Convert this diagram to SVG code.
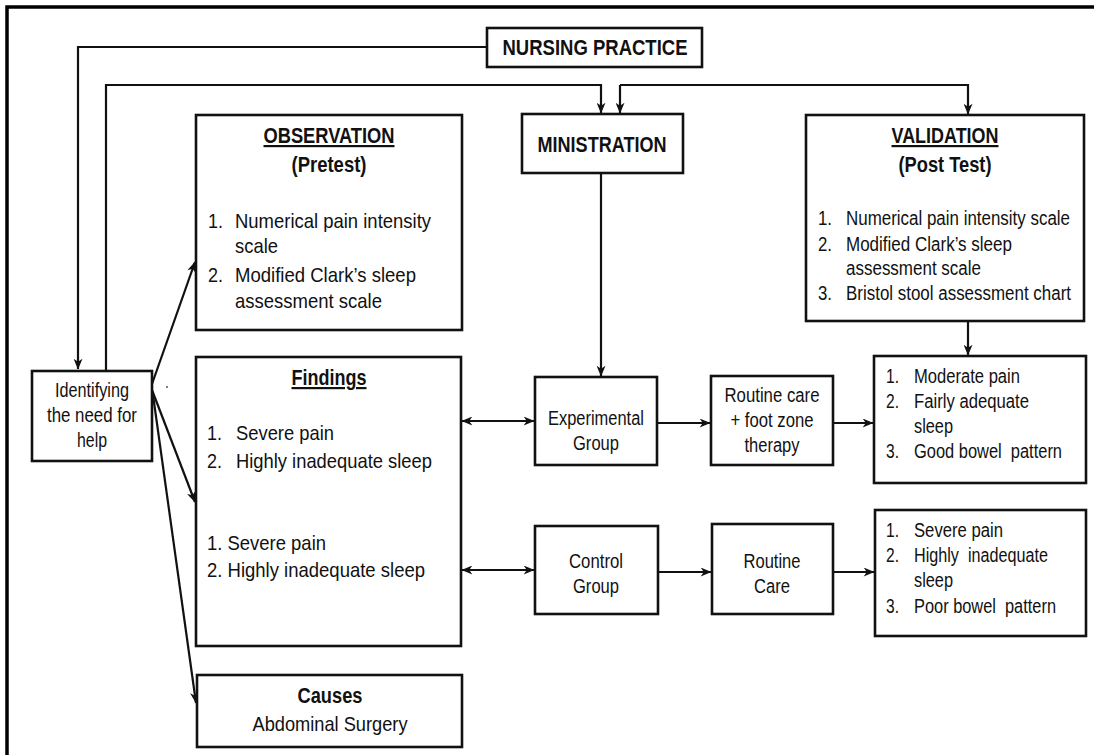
<svg xmlns="http://www.w3.org/2000/svg" width="1094" height="755" viewBox="0 0 1094 755">
<defs>
<style>
text{font-family:"Liberation Sans",Arial,sans-serif;fill:#111;}
.b{font-weight:bold;font-size:22px;}
.c{text-anchor:middle;}
.box{fill:#fff;stroke:#111;stroke-width:2.6;}
.ln{fill:none;stroke:#111;stroke-width:2.2;}
.f21{font-size:21px;}
.f19{font-size:19.5px;}
</style>
<marker id="ah" viewBox="0 0 12 10" refX="11.5" refY="5" markerWidth="12" markerHeight="9" orient="auto-start-reverse" markerUnits="userSpaceOnUse">
<path d="M0,0 L12,5 L0,10 L3.5,5 z" fill="#111"/>
</marker>
</defs>
<rect width="1094" height="755" fill="#fff"/>
<path d="M7,755 V7 H1094" fill="none" stroke="#000" stroke-width="3.5"/>

<g id="connectors">
<path class="ln" d="M487,47 H78 V369" marker-end="url(#ah)"/>
<path class="ln" d="M106,371 V85 H601 V113" marker-end="url(#ah)"/>
<path class="ln" d="M620,85 V113" marker-end="url(#ah)"/>
<path class="ln" d="M620,85 H968 V114" marker-end="url(#ah)"/>
<path class="ln" d="M601,173 V376" marker-end="url(#ah)"/>
<path class="ln" d="M968,321 V355" marker-end="url(#ah)"/>
<path class="ln" d="M152,384 L195,262" marker-end="url(#ah)"/>
<path class="ln" d="M152,390 L195,502" marker-end="url(#ah)"/>
<path class="ln" d="M153,395 L196,703" marker-end="url(#ah)"/>
<path class="ln" d="M462,421 H534" marker-start="url(#ah)" marker-end="url(#ah)"/>
<path class="ln" d="M462,570 H534" marker-start="url(#ah)" marker-end="url(#ah)"/>
<path class="ln" d="M658,423 H710" marker-end="url(#ah)"/>
<path class="ln" d="M834,423 H873" marker-end="url(#ah)"/>
<path class="ln" d="M659,572 H711" marker-end="url(#ah)"/>
<path class="ln" d="M834,572 H874" marker-end="url(#ah)"/>
</g>

<g id="nursing-practice">
<rect class="box" x="487" y="28" width="215" height="39"/>
<text class="b c" x="595" y="55" font-size="22.5" textLength="185" lengthAdjust="spacingAndGlyphs">NURSING PRACTICE</text>
</g>

<g id="identifying">
<rect class="box" x="32" y="371" width="120" height="90"/>
<text class="c f19" x="92" y="397" textLength="74" lengthAdjust="spacingAndGlyphs">Identifying</text>
<text class="c f19" x="92" y="422" textLength="90" lengthAdjust="spacingAndGlyphs">the need for</text>
<text class="c f19" x="92" y="447" textLength="30" lengthAdjust="spacingAndGlyphs">help</text>
<circle cx="167" cy="387" r="1" fill="#555"/>
</g>

<g id="observation">
<rect class="box" x="196" y="115" width="266" height="215"/>
<text class="b c" x="329" y="143" text-decoration="underline" textLength="131" lengthAdjust="spacingAndGlyphs">OBSERVATION</text>
<text class="b c" x="329" y="172" textLength="75" lengthAdjust="spacingAndGlyphs">(Pretest)</text>
<text class="f21" x="208" y="228" textLength="15" lengthAdjust="spacingAndGlyphs">1.</text>
<text class="f21" x="235" y="228" textLength="196" lengthAdjust="spacingAndGlyphs">Numerical pain intensity</text>
<text class="f21" x="235" y="253" textLength="43" lengthAdjust="spacingAndGlyphs">scale</text>
<text class="f21" x="208" y="282" textLength="15" lengthAdjust="spacingAndGlyphs">2.</text>
<text class="f21" x="235" y="282" textLength="181" lengthAdjust="spacingAndGlyphs">Modified Clark’s sleep</text>
<text class="f21" x="235" y="308" textLength="147" lengthAdjust="spacingAndGlyphs">assessment scale</text>
</g>

<g id="ministration">
<rect class="box" x="522" y="114" width="161" height="59"/>
<text class="b c" x="602" y="152" textLength="129" lengthAdjust="spacingAndGlyphs">MINISTRATION</text>
</g>

<g id="validation">
<rect class="box" x="806" y="115" width="278" height="206"/>
<text class="b c" x="945" y="143" text-decoration="underline" textLength="107" lengthAdjust="spacingAndGlyphs">VALIDATION</text>
<text class="b c" x="945" y="172" textLength="93" lengthAdjust="spacingAndGlyphs">(Post Test)</text>
<text class="f19" x="818" y="225" textLength="14" lengthAdjust="spacingAndGlyphs">1.</text>
<text class="f19" x="846" y="225" textLength="224" lengthAdjust="spacingAndGlyphs">Numerical pain intensity scale</text>
<text class="f19" x="818" y="251" textLength="14" lengthAdjust="spacingAndGlyphs">2.</text>
<text class="f19" x="846" y="251" textLength="166" lengthAdjust="spacingAndGlyphs">Modified Clark’s sleep</text>
<text class="f19" x="846" y="275" textLength="135" lengthAdjust="spacingAndGlyphs">assessment scale</text>
<text class="f19" x="818" y="300" textLength="14" lengthAdjust="spacingAndGlyphs">3.</text>
<text class="f19" x="846" y="300" textLength="225" lengthAdjust="spacingAndGlyphs">Bristol stool assessment chart</text>
</g>

<g id="findings">
<rect class="box" x="196" y="357" width="265" height="289"/>
<text class="b c" x="329" y="385" text-decoration="underline" textLength="75" lengthAdjust="spacingAndGlyphs">Findings</text>
<text class="f21" x="207" y="440" textLength="15" lengthAdjust="spacingAndGlyphs">1.</text>
<text class="f21" x="236" y="440" textLength="98" lengthAdjust="spacingAndGlyphs">Severe pain</text>
<text class="f21" x="207" y="468" textLength="15" lengthAdjust="spacingAndGlyphs">2.</text>
<text class="f21" x="236" y="468" textLength="196" lengthAdjust="spacingAndGlyphs">Highly inadequate sleep</text>
<text class="f21" x="207" y="550" textLength="119" lengthAdjust="spacingAndGlyphs">1. Severe pain</text>
<text class="f21" x="207" y="577" textLength="218" lengthAdjust="spacingAndGlyphs">2. Highly inadequate sleep</text>
</g>

<g id="causes">
<rect class="box" x="197" y="675" width="265" height="72"/>
<text class="b c" x="330" y="703" textLength="65" lengthAdjust="spacingAndGlyphs">Causes</text>
<text class="c f21" x="330" y="731" textLength="155" lengthAdjust="spacingAndGlyphs">Abdominal Surgery</text>
</g>

<g id="experimental-group">
<rect class="box" x="535" y="377" width="122" height="88"/>
<text class="c f19" x="596" y="425" textLength="96" lengthAdjust="spacingAndGlyphs">Experimental</text>
<text class="c f19" x="596" y="450" textLength="46" lengthAdjust="spacingAndGlyphs">Group</text>
</g>

<g id="routine-care-foot">
<rect class="box" x="711" y="376" width="122" height="89"/>
<text class="c f19" x="772" y="402" textLength="95" lengthAdjust="spacingAndGlyphs">Routine care</text>
<text class="c f19" x="772" y="427" textLength="83" lengthAdjust="spacingAndGlyphs">+ foot zone</text>
<text class="c f19" x="772" y="452" textLength="55" lengthAdjust="spacingAndGlyphs">therapy</text>
</g>

<g id="result-experimental">
<rect class="box" x="874" y="356" width="212" height="127"/>
<text class="f19" x="886" y="383" textLength="13" lengthAdjust="spacingAndGlyphs">1.</text>
<text class="f19" x="914" y="383" textLength="106" lengthAdjust="spacingAndGlyphs">Moderate pain</text>
<text class="f19" x="886" y="408" textLength="13" lengthAdjust="spacingAndGlyphs">2.</text>
<text class="f19" x="914" y="408" textLength="115" lengthAdjust="spacingAndGlyphs">Fairly adequate</text>
<text class="f19" x="914" y="433" textLength="39" lengthAdjust="spacingAndGlyphs">sleep</text>
<text class="f19" x="886" y="458" textLength="13" lengthAdjust="spacingAndGlyphs">3.</text>
<text class="f19" x="914" y="458" xml:space="preserve" textLength="148" lengthAdjust="spacingAndGlyphs">Good bowel  pattern</text>
</g>

<g id="control-group">
<rect class="box" x="535" y="526" width="123" height="88"/>
<text class="c f19" x="596" y="568" textLength="54" lengthAdjust="spacingAndGlyphs">Control</text>
<text class="c f19" x="596" y="593" textLength="46" lengthAdjust="spacingAndGlyphs">Group</text>
</g>

<g id="routine-care">
<rect class="box" x="712" y="524" width="121" height="90"/>
<text class="c f19" x="772" y="568" textLength="57" lengthAdjust="spacingAndGlyphs">Routine</text>
<text class="c f19" x="772" y="593" textLength="36" lengthAdjust="spacingAndGlyphs">Care</text>
</g>

<g id="result-control">
<rect class="box" x="875" y="510" width="211" height="126"/>
<text class="f19" x="886" y="537" textLength="13" lengthAdjust="spacingAndGlyphs">1.</text>
<text class="f19" x="914" y="537" textLength="89" lengthAdjust="spacingAndGlyphs">Severe pain</text>
<text class="f19" x="886" y="562" textLength="13" lengthAdjust="spacingAndGlyphs">2.</text>
<text class="f19" x="914" y="562" xml:space="preserve" textLength="134" lengthAdjust="spacingAndGlyphs">Highly  inadequate</text>
<text class="f19" x="914" y="587" textLength="39" lengthAdjust="spacingAndGlyphs">sleep</text>
<text class="f19" x="886" y="613" textLength="13" lengthAdjust="spacingAndGlyphs">3.</text>
<text class="f19" x="914" y="613" xml:space="preserve" textLength="142" lengthAdjust="spacingAndGlyphs">Poor bowel  pattern</text>
</g>
</svg>
